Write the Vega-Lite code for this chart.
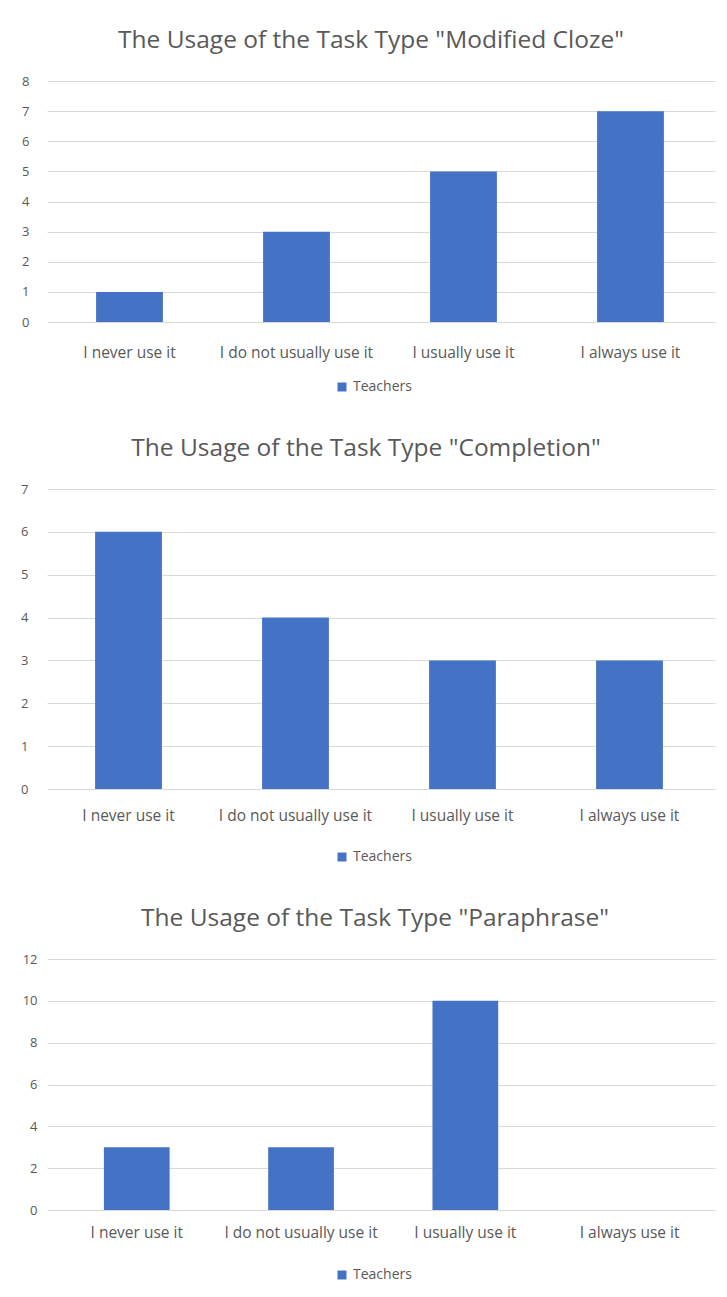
{
  "$schema": "https://vega.github.io/schema/vega-lite/v6.json",
  "background": "white",
  "padding": {"left": 20, "top": 27, "right": 12, "bottom": 0},
  "spacing": 41,
  "columns": 1,
  "config": {
    "font": "Open Sans",
    "view": {"stroke": null},
    "title": {"fontSize": 24.5, "fontWeight": "normal", "color": "#595959", "anchor": "middle", "offset": 22},
    "axis": {"labelColor": "#595959", "labelFontSize": 13, "grid": false, "domain": false, "ticks": false, "tickSize": 0, "title": null},
    "axisY": {"grid": true, "gridColor": "#d9d9d9", "gridWidth": 1},
    "axisX": {"labelPadding": 23, "labelAngle": 0, "labelFontSize": 15.5},
    "legend": {"labelColor": "#595959", "labelFontSize": 14, "symbolType": "square", "symbolSize": 81, "symbolStrokeWidth": 0, "title": null},
    "bar": {"color": "#4472c4"}
  },
  "datasets": {
    "cloze": [
      {"answer": "I never use it", "count": 1, "series": "Teachers"},
      {"answer": "I do not usually use it", "count": 3, "series": "Teachers"},
      {"answer": "I usually use it", "count": 5, "series": "Teachers"},
      {"answer": "I always use it", "count": 7, "series": "Teachers"}
    ],
    "completion": [
      {"answer": "I never use it", "count": 6, "series": "Teachers"},
      {"answer": "I do not usually use it", "count": 4, "series": "Teachers"},
      {"answer": "I usually use it", "count": 3, "series": "Teachers"},
      {"answer": "I always use it", "count": 3, "series": "Teachers"}
    ],
    "paraphrase": [
      {"answer": "I never use it", "count": 3, "series": "Teachers"},
      {"answer": "I do not usually use it", "count": 3, "series": "Teachers"},
      {"answer": "I usually use it", "count": 10, "series": "Teachers"},
      {"answer": "I always use it", "count": 0, "series": "Teachers"}
    ]
  },
  "concat": [
    {
      "title": {"text": "The Usage of the Task Type \"Modified Cloze\"", "dx": -10},
      "data": {"name": "cloze"},
      "width": 668,
      "height": 241,
      "mark": {"type": "bar"},
      "encoding": {
        "x": {"field": "answer", "type": "nominal", "sort": null, "scale": {"paddingInner": 0.6, "paddingOuter": 0.3, "align": 0.49}},
        "y": {"field": "count", "type": "quantitative", "scale": {"domain": [0, 8], "nice": false}, "axis": {"values": [0,1,2,3,4,5,6,7,8], "labelPadding": 18}},
        "color": {"field": "series", "type": "nominal", "scale": {"range": ["#4472c4"]}, "legend": {"orient": "none", "direction": "horizontal", "legendX": 288, "legendY": 299}}
      }
    },
    {
      "title": {"text": "The Usage of the Task Type \"Completion\"", "dx": -15},
      "data": {"name": "completion"},
      "width": 668,
      "height": 300,
      "mark": {"type": "bar"},
      "encoding": {
        "x": {"field": "answer", "type": "nominal", "sort": null, "scale": {"paddingInner": 0.6, "paddingOuter": 0.3, "align": 0.48}, "axis": {"labelPadding": 19}},
        "y": {"field": "count", "type": "quantitative", "scale": {"domain": [0, 7], "nice": false}, "axis": {"values": [0,1,2,3,4,5,6,7], "labelPadding": 19}},
        "color": {"field": "series", "type": "nominal", "scale": {"range": ["#4472c4"]}, "legend": {"orient": "none", "direction": "horizontal", "legendX": 288, "legendY": 361}}
      }
    },
    {
      "title": {"text": "The Usage of the Task Type \"Paraphrase\"", "dx": -6},
      "data": {"name": "paraphrase"},
      "width": 668,
      "height": 251,
      "mark": {"type": "bar"},
      "encoding": {
        "x": {"field": "answer", "type": "nominal", "sort": null, "scale": {"paddingInner": 0.6, "paddingOuter": 0.333, "align": 0.52}, "axis": {"labelPadding": 15}},
        "y": {"field": "count", "type": "quantitative", "scale": {"domain": [0, 12], "nice": false}, "axis": {"values": [0,2,4,6,8,10,12], "labelPadding": 10}},
        "color": {"field": "series", "type": "nominal", "scale": {"range": ["#4472c4"]}, "legend": {"orient": "none", "direction": "horizontal", "legendX": 288, "legendY": 309}}
      }
    }
  ],
  "resolve": {"scale": {"color": "independent"}, "legend": {"color": "independent"}}
}
